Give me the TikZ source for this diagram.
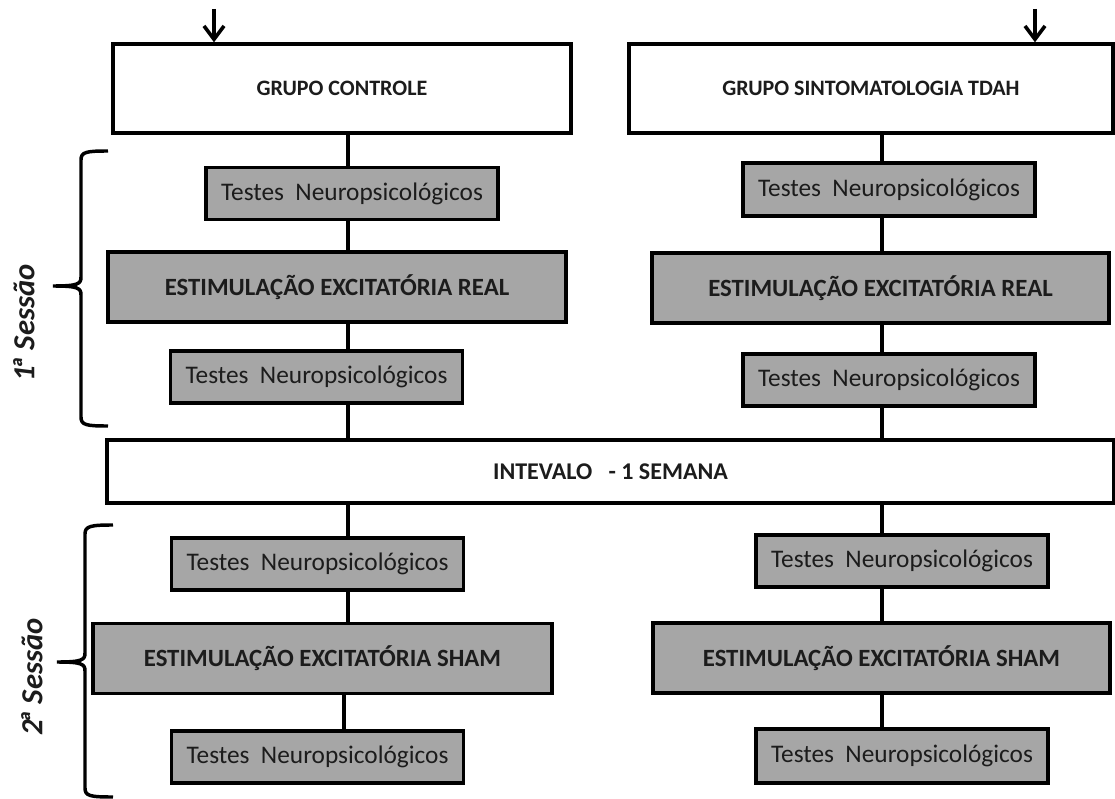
\documentclass[tikz,border=0pt]{standalone}
\usepackage{fontspec}
\setmainfont{Carlito}
\usetikzlibrary{arrows.meta}
\definecolor{boxgray}{RGB}{166,166,166}
\definecolor{txt}{RGB}{28,28,28}
\newcommand{\tnp}{Testes\hspace{0.45em}Neuropsicológicos}
\begin{document}
\begin{tikzpicture}[x=0.75pt,y=-0.75pt,
  lw/.style={line width=2.6pt},
  box/.style={draw, lw, inner sep=0pt, align=center, text=txt},
  wbox/.style={box, fill=white},
  gbox/.style={box, fill=boxgray},
  tbox/.style={gbox, minimum width=292*0.75pt, minimum height=52*0.75pt, font=\fontsize{19}{22}\selectfont},
  ebox/.style={gbox, minimum width=458*0.75pt, minimum height=70*0.75pt, font=\bfseries\fontsize{18.6}{22}\selectfont},
  grpbox/.style={wbox, minimum height=89*0.75pt, font=\bfseries\fontsize{16.5}{20}\selectfont},
  conn/.style={line width=2.7pt},
  brace/.style={line width=2.6pt},
  sess/.style={rotate=90, font=\bfseries\itshape\fontsize{23}{27}\selectfont, text=txt},
  inarrow/.style={line width=2.7pt, -{Straight Barb[length=10pt, width=15pt, line width=2.7pt]}}
]
\useasboundingbox (0,0) rectangle (1115,799);

% group boxes
\node[grpbox, minimum width=458*0.75pt] (g1) at (342,88.5) {GRUPO CONTROLE};
\node[grpbox, minimum width=484*0.75pt] (g2) at (871,88.5) {GRUPO SINTOMATOLOGIA TDAH};

% entry arrows
\coordinate (inL) at (214,9);
\coordinate (inR) at (1035,9);
\draw[inarrow] (inL) -- (inL |- g1.north);
\draw[inarrow] (inR) -- (inR |- g2.north);

% left column
\node[tbox] (lt1) at (352,193.5) {\tnp};
\node[ebox] (le1) at (337,287) {ESTIMULAÇÃO EXCITATÓRIA REAL};
\node[tbox] (lt2) at (316.5,377) {\tnp};

% interval
\node[wbox, minimum width=1007*0.75pt, minimum height=63*0.75pt, font=\bfseries\fontsize{18}{21}\selectfont] (iv) at (610.5,471.5) {INTEVALO\ \ \ - 1 SEMANA};

\node[tbox] (lt3) at (317.5,564) {\tnp};
\node[ebox, minimum width=459*0.75pt] (le2) at (322.5,658.5) {ESTIMULAÇÃO EXCITATÓRIA SHAM};
\node[tbox] (lt4) at (317.5,757) {\tnp};

% right column
\node[tbox, minimum height=53*0.75pt] (rt1) at (889,189.5) {\tnp};
\node[ebox, minimum width=457*0.75pt] (re1) at (880.5,288) {ESTIMULAÇÃO EXCITATÓRIA REAL};
\node[tbox] (rt2) at (889,380) {\tnp};
\node[tbox] (rt3) at (902,561) {\tnp};
\node[ebox, minimum width=457*0.75pt] (re2) at (881.5,658) {ESTIMULAÇÃO EXCITATÓRIA SHAM};
\node[tbox, minimum height=54*0.75pt] (rt4) at (902,756) {\tnp};

% column axes
\coordinate (xL) at (348,0);
\coordinate (xL2) at (344,0);
\coordinate (xR) at (882,0);

% connectors
\draw[conn] (g1.south -| xL) -- (lt1.north -| xL);
\draw[conn] (lt1.south -| xL) -- (le1.north -| xL);
\draw[conn] (le1.south -| xL) -- (lt2.north -| xL);
\draw[conn] (lt2.south -| xL) -- (iv.north -| xL);
\draw[conn] (iv.south -| xL) -- (lt3.north -| xL);
\draw[conn] (lt3.south -| xL) -- (le2.north -| xL);
\draw[conn] (le2.south -| xL2) -- (lt4.north -| xL2);

\draw[conn] (g2.south -| xR) -- (rt1.north -| xR);
\draw[conn] (rt1.south -| xR) -- (re1.north -| xR);
\draw[conn] (re1.south -| xR) -- (rt2.north -| xR);
\draw[conn] (rt2.south -| xR) -- (iv.north -| xR);
\draw[conn] (iv.south -| xR) -- (rt3.north -| xR);
\draw[conn] (rt3.south -| xR) -- (re2.north -| xR);
\draw[conn] (re2.south -| xR) -- (rt4.north -| xR);

% braces
\draw[brace] (108,151) .. controls (86,151) and (81,152) .. (81,160) -- (81,277)
  .. controls (81,284) and (78,286) .. (53,286)
  .. controls (78,286) and (81,288) .. (81,295) -- (81,417)
  .. controls (81,425) and (86,426) .. (108,426);
\draw[brace] (113,525) .. controls (91,525) and (85,526) .. (85,534) -- (85,653)
  .. controls (85,660) and (82,662) .. (57,662)
  .. controls (82,662) and (85,664) .. (85,671) -- (85,788)
  .. controls (85,796) and (90,797) .. (113,797);

\node[sess] (s1) at (24,323) {1\kern-0.14em ª Sessão};
\node[sess] (s2) at (32,677) {2\kern-0.14em ª Sessão};
\end{tikzpicture}
\end{document}
